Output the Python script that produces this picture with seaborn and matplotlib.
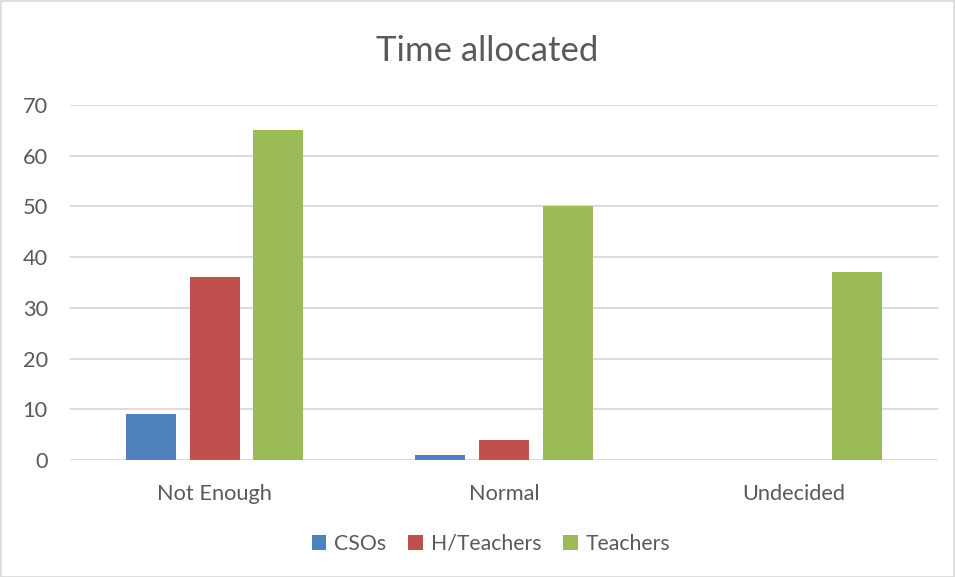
import matplotlib
matplotlib.use("Agg")
import matplotlib.pyplot as plt
import seaborn as sns
import pandas as pd
from matplotlib.patches import Patch, Rectangle

categories = ["Not Enough", "Normal", "Undecided"]
series_names = ["CSOs", "H/Teachers", "Teachers"]
csos = [9, 1, 0]
h_teachers = [36, 4, 0]
teachers = [65, 50, 37]
y_ticks = [0, 10, 20, 30, 40, 50, 60, 70]
colors = ["#4F81BD", "#C0504D", "#9BBB59"]

rows = []
for name, vals in zip(series_names, [csos, h_teachers, teachers]):
    for c, v in zip(categories, vals):
        rows.append({"Category": c, "Series": name, "Value": v})
df = pd.DataFrame(rows)

sns.set_theme(style="white")
plt.rcParams['font.family'] = ['Lato', 'DejaVu Sans']

fig = plt.figure(figsize=(9.55, 5.77), dpi=100)
ax = fig.add_axes([70/955, 1-460/577, (938-70)/955, (460-105)/577])

sns.barplot(data=df, x="Category", y="Value", hue="Series", order=categories,
            hue_order=series_names, palette=colors, width=0.66, gap=0.21,
            saturation=1, ax=ax, legend=False, errorbar=None, linewidth=0)

ax.set_ylim(0, 70)
ax.set_xlim(-0.5, 2.5)
ax.set_yticks(y_ticks)
ax.yaxis.grid(True, color="#D9D9D9", linewidth=1.3)
ax.set_axisbelow(True)
for s in ax.spines.values():
    s.set_visible(False)
ax.set_xlabel("")
ax.set_ylabel("")
ax.tick_params(axis="both", length=0, labelsize=15.7, colors="#595959")
ax.tick_params(axis="y", pad=16)
ax.tick_params(axis="x", pad=17)

fig.text(487/955, 1-51/577, "Time allocated", ha="center", va="center",
         fontsize=25, color="#595959")

handles = [Patch(facecolor=c, edgecolor="none") for c in colors]
fig.legend(handles, series_names, loc="center", bbox_to_anchor=(491/955, 1-544/577),
           ncol=3, frameon=False, fontsize=15.3, labelcolor="#595959",
           handlelength=0.7, handleheight=0.7, handletextpad=0.35, columnspacing=1.05)

fig.patches.append(Rectangle((0.5/955, 0.5/577), 1-1.5/955, 1-1.5/577, transform=fig.transFigure,
                             fill=False, edgecolor="#D9D9D9", linewidth=1.2))

fig.savefig("out.png", dpi=100)
